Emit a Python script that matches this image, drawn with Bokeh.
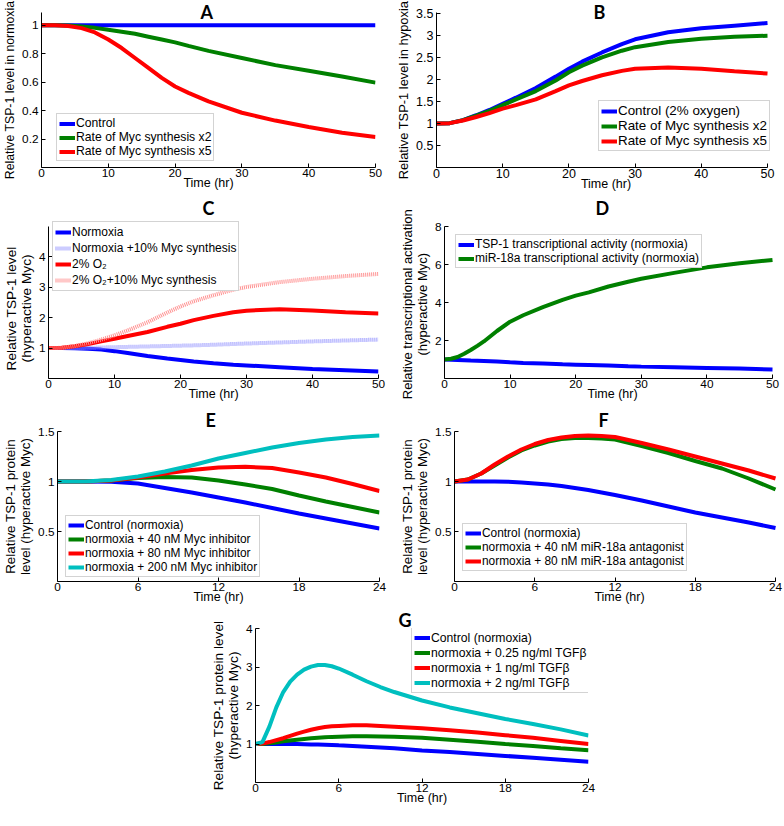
from bokeh.plotting import figure
from bokeh.layouts import column, row
from bokeh.models import Range1d, FixedTicker, NumeralTickFormatter
from bokeh.embed import file_html
from bokeh.resources import INLINE

BLUE = "#0000FF"
GREEN = "#008000"
RED = "#FF0000"
CYAN = "#00BFBF"
LBLUE = "#9999FF"
PINK = "#FF9090"

# ---------------- data ----------------
# Panel A
tA = [0, 2, 4, 6, 8, 10, 12, 14, 16, 18, 20, 22, 25, 30, 35, 40, 45, 50]
a_ctrl = [1.0] * 18
a_x2 = [1, 1, 0.998, 0.992, 0.982, 0.968, 0.955, 0.94, 0.92, 0.90, 0.88, 0.855, 0.82, 0.77, 0.72, 0.68, 0.64, 0.597]
a_x5 = [1, 1, 0.995, 0.98, 0.95, 0.90, 0.84, 0.77, 0.70, 0.63, 0.57, 0.525, 0.465, 0.385, 0.33, 0.285, 0.245, 0.215]

# Panel B
tB = [0, 2, 4, 6, 8, 10, 12, 15, 18, 20, 22, 25, 28, 30, 35, 40, 45, 50]
b_ctrl = [1, 1.01, 1.08, 1.19, 1.31, 1.45, 1.59, 1.81, 2.07, 2.25, 2.41, 2.62, 2.81, 2.92, 3.08, 3.17, 3.23, 3.29]
b_x2 = [1, 1.01, 1.08, 1.18, 1.29, 1.42, 1.55, 1.74, 1.98, 2.17, 2.32, 2.51, 2.66, 2.74, 2.86, 2.93, 2.98, 3.0]
b_x5 = [1, 1.01, 1.07, 1.15, 1.24, 1.34, 1.42, 1.55, 1.74, 1.87, 1.97, 2.1, 2.2, 2.25, 2.28, 2.25, 2.19, 2.14]

# Panel C
tC = [0, 2, 4, 6, 8, 10, 12, 15, 18, 20, 22, 25, 28, 30, 35, 40, 45, 50]
c_norm = [1, 1, 0.995, 0.98, 0.95, 0.90, 0.84, 0.74, 0.66, 0.61, 0.56, 0.5, 0.45, 0.43, 0.37, 0.31, 0.27, 0.23]
c_norm10 = [1, 1, 1.0, 1.01, 1.02, 1.03, 1.04, 1.055, 1.07, 1.08, 1.09, 1.11, 1.135, 1.15, 1.185, 1.22, 1.25, 1.28]
c_o2 = [1, 1.01, 1.06, 1.13, 1.22, 1.31, 1.40, 1.53, 1.70, 1.80, 1.92, 2.06, 2.18, 2.23, 2.28, 2.24, 2.18, 2.14]
c_o2_10 = [1, 1.01, 1.07, 1.16, 1.28, 1.42, 1.58, 1.85, 2.17, 2.37, 2.54, 2.74, 2.92, 3.01, 3.17, 3.28, 3.37, 3.44]

# Panel D
tD = [0, 1, 2, 3, 4, 5, 6, 8, 10, 12, 15, 18, 20, 22, 25, 28, 30, 35, 40, 45, 50]
d_tsp = [1, 0.99, 0.98, 0.965, 0.95, 0.94, 0.925, 0.89, 0.85, 0.82, 0.79, 0.75, 0.73, 0.71, 0.68, 0.645, 0.625, 0.59, 0.555, 0.52, 0.48]
d_mir = [1, 1.04, 1.13, 1.3, 1.5, 1.72, 1.95, 2.5, 2.99, 3.33, 3.76, 4.14, 4.36, 4.53, 4.84, 5.09, 5.25, 5.56, 5.85, 6.07, 6.24]

# Panel E
tE = [0, 2, 4, 6, 8, 10, 12, 14, 16, 18, 20, 22, 24]
e_ctrl = [1, 1, 0.997, 0.98, 0.935, 0.89, 0.84, 0.79, 0.735, 0.68, 0.63, 0.58, 0.53]
e_40 = [1, 1.0, 1.01, 1.035, 1.045, 1.04, 1.01, 0.97, 0.925, 0.86, 0.80, 0.745, 0.69]
e_80 = [1, 1.0, 1.01, 1.04, 1.08, 1.115, 1.14, 1.147, 1.135, 1.09, 1.04, 0.975, 0.905]
e_200 = [1, 1.0, 1.015, 1.05, 1.10, 1.16, 1.23, 1.285, 1.34, 1.385, 1.42, 1.445, 1.46]

# Panel F
tF = [0, 1, 2, 3, 4, 5, 6, 7, 8, 9, 10, 11, 12, 14, 16, 18, 20, 22, 24]
f_ctrl = [1, 1, 1, 1, 0.998, 0.99, 0.98, 0.97, 0.955, 0.935, 0.915, 0.89, 0.865, 0.81, 0.75, 0.69, 0.64, 0.59, 0.535]
f_40 = [1, 1.02, 1.08, 1.16, 1.24, 1.31, 1.36, 1.40, 1.425, 1.435, 1.435, 1.43, 1.42, 1.355, 1.285, 1.205, 1.13, 1.03, 0.92]
f_80 = [1, 1.02, 1.08, 1.17, 1.25, 1.32, 1.375, 1.415, 1.44, 1.455, 1.46, 1.455, 1.445, 1.385, 1.32, 1.25, 1.18, 1.11, 1.03]

# Panel G
tG = [0, 0.5, 1, 1.5, 2, 2.5, 3, 3.5, 4, 4.5, 5, 5.5, 6, 7, 8, 9, 10, 12, 14, 16, 18, 20, 22, 24]
g_ctrl = [1, 1, 1, 1, 1, 1, 1, 0.995, 0.99, 0.985, 0.98, 0.975, 0.965, 0.95, 0.93, 0.91, 0.89, 0.83, 0.79, 0.74, 0.69, 0.64, 0.59, 0.54]
g_025 = [1, 1.0, 1.02, 1.04, 1.07, 1.09, 1.11, 1.13, 1.15, 1.165, 1.175, 1.185, 1.19, 1.2, 1.2, 1.195, 1.19, 1.16, 1.11, 1.06, 1.0, 0.95, 0.89, 0.84]
g_1 = [1, 1.01, 1.05, 1.1, 1.15, 1.21, 1.27, 1.32, 1.37, 1.41, 1.44, 1.46, 1.47, 1.49, 1.49, 1.47, 1.45, 1.41, 1.36, 1.30, 1.23, 1.16, 1.08, 1.0]
g_2 = [1, 1.05, 1.45, 1.95, 2.35, 2.62, 2.8, 2.93, 3.01, 3.05, 3.05, 3.02, 2.96, 2.8, 2.63, 2.48, 2.35, 2.13, 1.95, 1.8, 1.65, 1.52, 1.38, 1.22]

ticks_50 = [0, 10, 20, 30, 40, 50]
ticks_24 = [0, 6, 12, 18, 24]

FONT = "Liberation Sans"
NB = "\u00a0"


def panel(title, fw, fh, bl, br, bt, ext_top, ext_right, bb, xr, yr, xticks, yticks, ylabel,
          series, legend_loc, title_offset, title_standoff, item_h=14,
          tick_fs=11.8, xlab_fs=12.5, ylab_fs=13.4, leg_fs=12.0, ylab_pad=0):
    # the frame may be enlarged by ext_top / ext_right pixels (room for a legend);
    # the axes keep their real extent through their bounds.
    x_end = xr[0] + (xr[1] - xr[0]) * (fw + ext_right) / fw
    y_end = yr[0] + (yr[1] - yr[0]) * (fh + ext_top) / fh
    p = figure(frame_width=fw + ext_right, frame_height=fh + ext_top,
               min_border_left=bl, min_border_right=br,
               min_border_top=bt, min_border_bottom=bb,
               x_range=Range1d(xr[0], x_end), y_range=Range1d(yr[0], y_end),
               output_backend="svg", toolbar_location=None, tools="")
    p.outline_line_color = None
    p.grid.visible = False
    p.background_fill_color = "white"
    p.border_fill_color = "white"

    p.title.text = title
    p.title.align = "left"
    p.title.offset = title_offset
    p.title.standoff = title_standoff
    p.title.vertical_align = "bottom"
    p.title.text_font = "Lato"
    p.title.text_font_style = "bold"
    p.title.text_font_size = "18px"
    p.title.text_color = "black"

    for ax, tk in ((p.xaxis, xticks), (p.yaxis, yticks)):
        ax.ticker = FixedTicker(ticks=tk)
        ax.formatter = NumeralTickFormatter(format="0.[0]")
        ax.major_tick_in = 4
        ax.major_tick_out = 0
        ax.minor_tick_line_color = None
        ax.axis_line_color = "black"
        ax.major_tick_line_color = "black"
        ax.major_label_text_font = FONT
        ax.major_label_text_font_size = f"{tick_fs}px"
        ax.major_label_text_color = "black"
        ax.axis_label_text_font = FONT
        ax.axis_label_text_font_style = "normal"
        ax.axis_label_text_color = "black"
        ax.axis_label_text_line_height = 1.0
    p.xaxis.axis_label_text_font_size = f"{xlab_fs}px"
    p.yaxis.axis_label_text_font_size = f"{ylab_fs}px"
    p.xaxis.major_label_standoff = 1
    p.xaxis.axis_label_standoff = -4
    p.yaxis.major_label_standoff = 3
    p.yaxis.axis_label_standoff = 2
    p.xaxis.bounds = (xr[0], xr[1])
    p.yaxis.bounds = (yr[0], yr[1])
    p.xaxis.axis_label = "Time (hr)"
    p.yaxis.axis_label = "\n".join(line + NB * ylab_pad for line in ylabel.split("\n"))

    for (t, y, color, dash, lab) in series:
        p.line(t, y, line_color=color, line_width=4, line_dash=dash, legend_label=lab)

    lg = p.legend[0]
    lg.location = legend_loc
    lg.label_text_font = FONT
    lg.label_text_font_size = f"{leg_fs}px"
    lg.label_text_color = "black"
    lg.glyph_width = 16
    lg.glyph_height = item_h
    lg.label_height = item_h
    lg.label_standoff = 1
    lg.padding = 2
    lg.spacing = 0
    lg.margin = 0
    lg.border_line_color = "#A8A8A8"
    lg.border_line_width = 1
    lg.background_fill_color = "white"
    lg.background_fill_alpha = 1.0
    return p


pA = panel("A", 334, 155, 38, 18, 12, 0, 0, 27, (0, 50), (0, 1.09), ticks_50,
           [0.2, 0.4, 0.6, 0.8, 1], "Relative TSP-1 level in normoxia",
           [(tA, a_ctrl, BLUE, "solid", "Control"),
            (tA, a_x2, GREEN, "solid", "Rate of Myc synthesis x2"),
            (tA, a_x5, RED, "solid", "Rate of Myc synthesis x5")],
           (15, 6), 159, -21, item_h=13, ylab_fs=12.3, leg_fs=12.2)

pB = panel("B", 331, 155, 39, 0, 12, 0, 8, 27, (0, 50), (0, 3.53), ticks_50,
           [0.5, 1, 1.5, 2, 2.5, 3, 3.5], "Relative TSP-1 level in hypoxia",
           [(tB, b_ctrl, BLUE, "solid", "Control (2% oxygen)"),
            (tB, b_x2, GREEN, "solid", "Rate of Myc synthesis x2"),
            (tB, b_x5, RED, "solid", "Rate of Myc synthesis x5")],
           (162, 16), 157, -21, tick_fs=12.5, ylab_fs=12.9, leg_fs=13.4)

pC = panel("C", 330, 152, 42, 18, 21, 11, 0, 27, (0, 50), (0, 5.0), ticks_50,
           [1, 2, 3, 4], "Relative TSP-1 level\n(hyperactive Myc)",
           [(tC, c_norm, BLUE, "solid", "Normoxia"),
            (tC, c_norm10, LBLUE, "1 1", "Normoxia +10% Myc synthesis"),
            (tC, c_o2, RED, "solid", "2% O₂"),
            (tC, c_o2_10, PINK, "1 1", "2% O₂+10% Myc synthesis")],
           (4, 87), 154, -7, item_h=16, ylab_fs=13.7, leg_fs=12.0, ylab_pad=6)

pD = panel("D", 328, 152, 42, 0, 21, 11, 8, 27, (0, 50), (0, 8), ticks_50,
           [2, 4, 6, 8], "Relative transcriptional activation\n(hyperactive Myc)",
           [(tD, d_tsp, BLUE, "solid", "TSP-1 transcriptional activity (normoxia)"),
            (tD, d_mir, GREEN, "solid", "miR-18a transcriptional activity (normoxia)")],
           (11, 110), 151, -7, item_h=13, ylab_fs=13.0, leg_fs=12.0, ylab_pad=4)

pE = panel("E", 322, 150, 50, 18, 26, 0, 0, 27, (0, 24), (0, 1.5), ticks_24,
           [0.5, 1, 1.5], "Relative TSP-1 protein\nlevel (hyperactive Myc)",
           [(tE, e_ctrl, BLUE, "solid", "Control (normoxia)"),
            (tE, e_40, GREEN, "solid", "normoxia + 40 nM Myc inhibitor"),
            (tE, e_80, RED, "solid", "normoxia + 80 nM Myc inhibitor"),
            (tE, e_200, CYAN, "solid", "normoxia + 200 nM Myc inhibitor")],
           (8, 4), 148, 2, ylab_fs=13.4, leg_fs=11.9)

pF = panel("F", 321, 150, 48, 0, 26, 0, 9, 27, (0, 24), (0, 1.5), ticks_24,
           [0.5, 1, 1.5], "Relative TSP-1 protein\nlevel (hyperactive Myc)",
           [(tF, f_ctrl, BLUE, "solid", "Control (normoxia)"),
            (tF, f_40, GREEN, "solid", "normoxia + 40 nM miR-18a antagonist"),
            (tF, f_80, RED, "solid", "normoxia + 80 nM miR-18a antagonist")],
           (8, 10), 144, 2, ylab_fs=13.4, leg_fs=11.9)

pG = panel("G", 333, 154, 255, 180, 19, 0, 0, 29, (0, 24), (0, 4), ticks_24,
           [1, 2, 3, 4], "Relative TSP-1 protein level\n(hyperactive Myc)",
           [(tG, g_ctrl, BLUE, "solid", "Control (normoxia)"),
            (tG, g_025, GREEN, "solid", "normoxia + 0.25 ng/ml TGFβ"),
            (tG, g_1, RED, "solid", "normoxia + 1 ng/ml TGFβ"),
            (tG, g_2, CYAN, "solid", "normoxia + 2 ng/ml TGFβ")],
           (156, 89), 143, -4, item_h=15, ylab_fs=13.7, leg_fs=12.2)

layout = column(row(pA, pB), row(pC, pD), row(pE, pF), pG, spacing=0)

open("out.html", "w").write(file_html(layout, INLINE))
